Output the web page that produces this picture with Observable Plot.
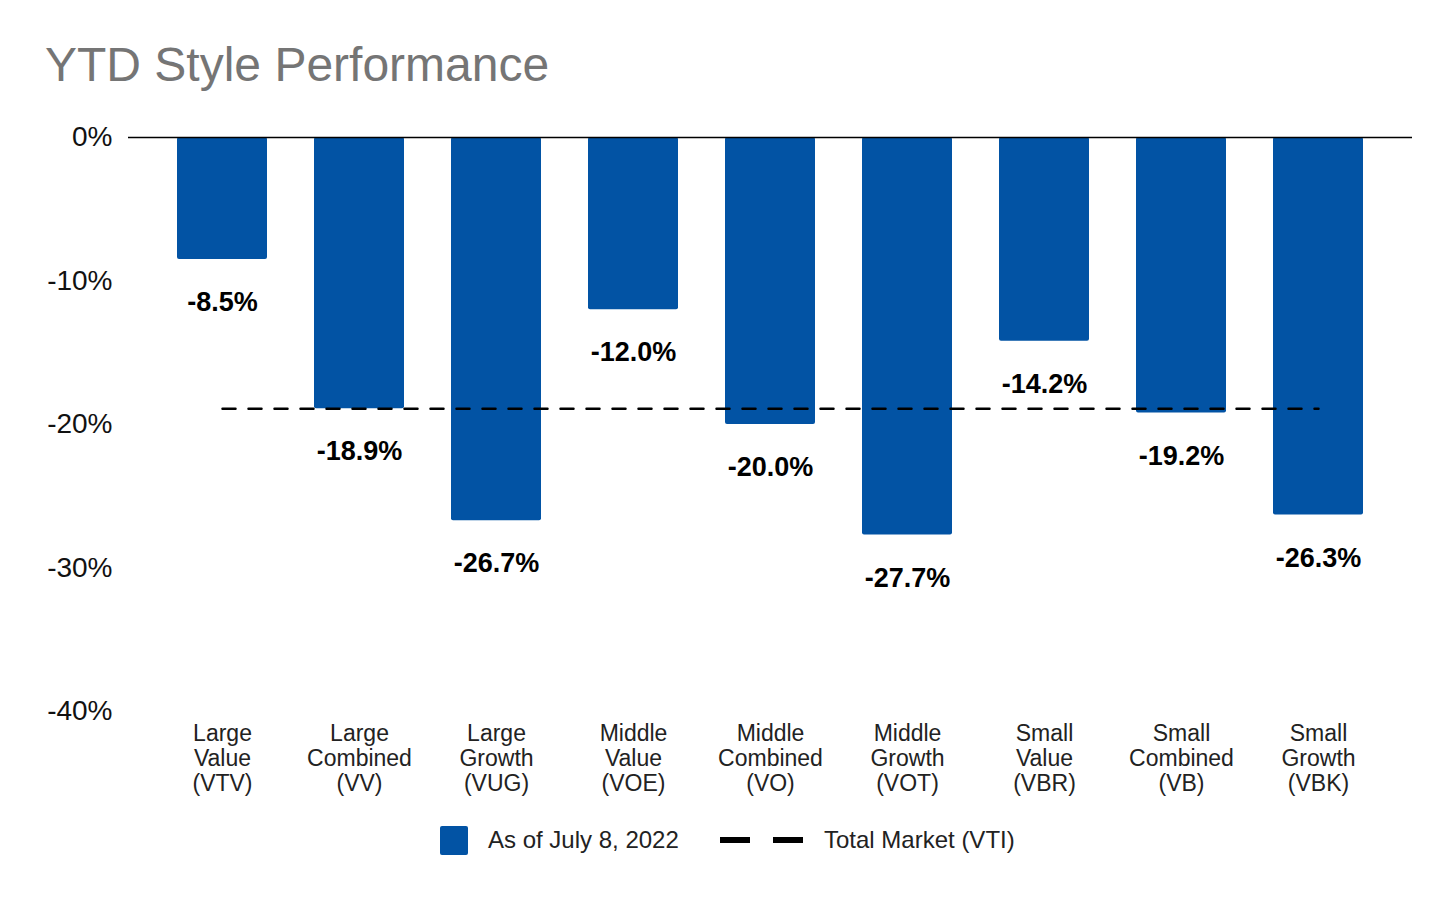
<!DOCTYPE html>
<html>
<head>
<meta charset="utf-8">
<script src="https://cdn.jsdelivr.net/npm/d3@7"></script>
<script src="https://cdn.jsdelivr.net/npm/@observablehq/plot@0.6"></script>
<style>
  html, body { margin: 0; padding: 0; background: #fff; }
  body { width: 1456px; height: 900px; position: relative; overflow: hidden; font-family: "Liberation Sans", Arial, sans-serif; }
  #title { position: absolute; left: 45px; top: 41px; font-size: 48px; color: #757575; line-height: 1; white-space: nowrap; }
  #chart { position: absolute; left: 0; top: 100px; }
  #legend { position: absolute; left: 0; top: 824px; width: 1456px; height: 32px; }
  .lg { position: absolute; top: 0; font-size: 24px; color: #222; line-height: 32px; white-space: nowrap; }
</style>
</head>
<body>
<div id="title">YTD Style Performance</div>
<div id="chart"></div>
<div id="legend">
  <svg style="position:absolute;left:440px;top:2px" width="30" height="30"><rect x="0" y="0" width="28" height="29" rx="2" fill="#0253a4"/></svg>
  <div class="lg" style="left:488px">As of July 8, 2022</div>
  <svg style="position:absolute;left:718px;top:10px" width="90" height="12"><rect x="2" y="3" width="30" height="6" fill="#000"/><rect x="55" y="3" width="30" height="6" fill="#000"/></svg>
  <div class="lg" style="left:824px">Total Market (VTI)</div>
</div>
<script>
const categories = [
  "Large\nValue\n(VTV)", "Large\nCombined\n(VV)", "Large\nGrowth\n(VUG)",
  "Middle\nValue\n(VOE)", "Middle\nCombined\n(VO)", "Middle\nGrowth\n(VOT)",
  "Small\nValue\n(VBR)", "Small\nCombined\n(VB)", "Small\nGrowth\n(VBK)"
];
const values = [-8.5, -18.9, -26.7, -12.0, -20.0, -27.7, -14.2, -19.2, -26.3];
const totalMarket = -18.9;
const yTicks = [0, -10, -20, -30, -40];

const data = categories.map((c, i) => ({cat: c, v: values[i]}));
const vtiLine = categories.map(c => ({cat: c, v: totalMarket}));

const chart = Plot.plot({
  width: 1456,
  height: 720,
  marginLeft: 128,
  marginRight: 44,
  marginTop: 37,
  marginBottom: 109,
  style: {fontFamily: "'Liberation Sans', Arial, sans-serif", background: "#fff"},
  x: {domain: categories, paddingInner: 0.344, paddingOuter: 0.347, label: null},
  y: {domain: [-40, 0], ticks: yTicks, label: null, tickFormat: d => `${d}%`},
  marks: [
    Plot.barY(data, {x: "cat", y: "v", fill: "#0253a4", rx: 2}),
    Plot.ruleY([0], {stroke: "#000", strokeWidth: 1.5}),
    Plot.lineY(vtiLine, {x: "cat", y: "v", stroke: "#000", strokeWidth: 2.5, strokeDasharray: "13,13"}),
    Plot.text(data, {x: "cat", y: "v", text: d => `${d.v.toFixed(1)}%`, dy: 43, fontSize: 27, fontWeight: "bold", fill: "#000"}),
    Plot.axisY({ticks: yTicks, tickFormat: d => `${d}%`, tickSize: 0, tickPadding: 16, fontSize: 28, label: null, color: "#111"}),
    Plot.axisX({tickSize: 0, tickPadding: 12, fontSize: 23, lineHeight: 1.08, label: null, color: "#222"})
  ]
});
document.getElementById("chart").appendChild(chart);
</script>
</body>
</html>
